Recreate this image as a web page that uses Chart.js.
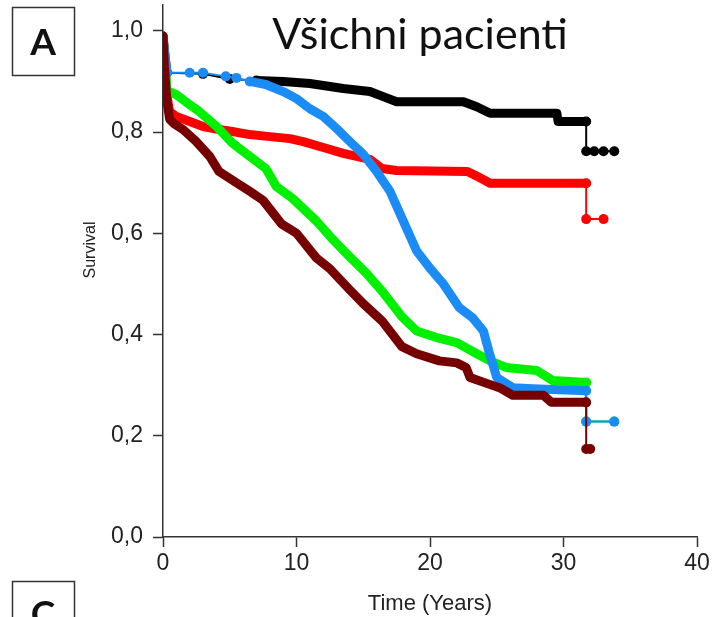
<!DOCTYPE html>
<html>
<head>
<meta charset="utf-8">
<script src="https://cdn.jsdelivr.net/npm/chart.js@4.4.1/dist/chart.umd.min.js"></script>
<style>
  html, body { margin: 0; padding: 0; background: #fff; }
</style>
</head>
<body>
<canvas id="km" width="712" height="617"></canvas>
<script>
// survival curves: [time in years, survival]
const maroonCurve = [[0,0.99],[0.1,0.93],[0.3,0.86],[0.5,0.825],[0.8,0.817],[1.5,0.805],[2.5,0.781],[3.5,0.752],
  [4.2,0.722],[5.5,0.7],[6.5,0.683],[7.5,0.665],[8.9,0.618],[10,0.6],[11.5,0.551],[12.5,0.53],[14,0.488],
  [15,0.461],[16.4,0.427],[17.9,0.376],[19,0.362],[20.7,0.348],[22,0.344],[22.7,0.335],[23,0.315],[24.3,0.303],
  [25.2,0.295],[26.2,0.28],[28.5,0.28],[29.1,0.266],[31.7,0.266],[31.7,0.174],[32,0.174]];
const greenCurve = [[0,0.99],[0.1,0.95],[0.3,0.882],[1,0.874],[2,0.854],[2.7,0.841],[4,0.811],[5.2,0.778],
  [6.5,0.752],[7.7,0.728],[8.5,0.692],[9.7,0.669],[11.5,0.624],[12.5,0.594],[14,0.553],[15.2,0.522],
  [16.4,0.486],[17.9,0.435],[19,0.407],[20.5,0.394],[22,0.384],[23.5,0.362],[24.5,0.348],[25.7,0.335],
  [28,0.329],[29.2,0.309],[31.7,0.305],[31.7,0.228],[33.8,0.228]];
const blueCurve = [[0,0.99],[0.15,0.95],[0.3,0.917],[2,0.917],[3,0.917],[4.7,0.91],[5.5,0.907],[6.5,0.9],
  [7.7,0.894],[9,0.88],[10,0.866],[11,0.846],[12,0.831],[13,0.807],[14,0.781],[15,0.756],[16,0.722],
  [17,0.683],[17.9,0.63],[19,0.565],[20,0.531],[21,0.5],[22.2,0.453],[23.2,0.433],[24,0.407],[24.4,0.368],
  [25,0.315],[26.2,0.295],[27.7,0.293],[31.7,0.289],[31.7,0.228],[33.8,0.228]];
const redCurve = [[0,0.99],[0.1,0.95],[0.3,0.87],[0.5,0.84],[1,0.831],[2,0.821],[3,0.811],[4.2,0.805],
  [5.2,0.801],[6.5,0.795],[8,0.791],[9.5,0.787],[10.5,0.781],[12.2,0.768],[13.5,0.758],[14.5,0.752],
  [15.5,0.746],[16.4,0.728],[17.5,0.724],[22.8,0.722],[23.5,0.713],[24.5,0.699],[31.7,0.699],
  [31.7,0.628],[33,0.628]];
const blackCurve = [[0,0.99],[0.15,0.95],[0.3,0.917],[3,0.915],[5,0.905],[7,0.902],[9,0.9],[11,0.896],
  [13.5,0.886],[15.5,0.88],[16.5,0.87],[17.5,0.86],[22.5,0.86],[23.5,0.85],[24.5,0.837],[29.5,0.837],
  [29.6,0.821],[31.7,0.821],[31.7,0.762],[32.3,0.762],[33,0.762],[33.8,0.762]];

const yTicks = [0, 0.2, 0.4, 0.6, 0.8, 1.0];
const xTicks = [0, 10, 20, 30, 40];

const toPoints = arr => arr.map(p => ({ x: p[0], y: p[1] }));

// time after the last vertical drop: drawn as thin line with dots
function tailStart(arr) {
  let t = Infinity;
  for (let i = 1; i < arr.length; i++) {
    if (arr[i][0] === arr[i - 1][0]) t = arr[i][0];
  }
  return t;
}

// sparse = [from, to] stretch of the curve with few censored dots (thin line)
function curve(label, arr, color, sparse) {
  const tail = tailStart(arr);
  const sp = sparse || [Infinity, -Infinity];
  const thinPoint = x => x >= tail || (x >= sp[0] && x <= sp[1]);
  return {
    label: label,
    data: toPoints(arr),
    borderColor: color,
    backgroundColor: color,
    borderWidth: 9,
    borderCapStyle: 'round',
    borderJoinStyle: 'round',
    pointRadius: ctx => (ctx.raw && thinPoint(ctx.raw.x)) ? 5 : 0,
    pointBorderWidth: 0,
    tension: 0,
    segment: {
      borderWidth: ctx => (ctx.p0.parsed.x >= tail ||
        (ctx.p0.parsed.x >= sp[0] && ctx.p1.parsed.x <= sp[1])) ? 2 : 9
    }
  };
}

const decorations = {
  id: 'decorations',
  afterDraw(chart) {
    const ctx = chart.ctx;
    ctx.save();
    ctx.strokeStyle = '#333';
    ctx.lineWidth = 1.5;
    ctx.strokeRect(12.5, 7.5, 62, 68);
    ctx.strokeRect(12.5, 581.5, 62, 60);
    ctx.fillStyle = '#111';
    ctx.textAlign = 'center';
    ctx.textBaseline = 'alphabetic';
    ctx.font = 'bold 37px Lato';
    ctx.fillText('A', 43, 55);
    ctx.fillText('C', 43, 627);
    ctx.font = '43px Lato';
    ctx.fillText('Všichni pacienti', 420, 49);
    ctx.translate(91, 250);
    ctx.rotate(-Math.PI / 2);
    ctx.textBaseline = 'middle';
    ctx.font = '16px "Liberation Sans", Arial';
    ctx.fillStyle = '#222';
    ctx.fillText('Survival', 0, 0);
    ctx.restore();
  }
};

const axisFont = { family: '"Liberation Sans", Arial', size: 23 };

new Chart(document.getElementById('km'), {
  type: 'line',
  data: {
    datasets: [
      curve('maroon', maroonCurve, '#760000'),
      curve('blue', blueCurve, '#1b8cf5', [0.3, 6.5]),
      curve('green', greenCurve, '#00f000'),
      curve('red', redCurve, '#ff0000'),
      curve('black', blackCurve, '#000000', [0.3, 7])
    ]
  },
  options: {
    responsive: false,
    animation: false,
    devicePixelRatio: 1,
    layout: { padding: { top: 3, right: 15, left: 0, bottom: 0 } },
    plugins: { legend: { display: false }, tooltip: { enabled: false } },
    scales: {
      x: {
        type: 'linear',
        min: 0,
        max: 40,
        afterBuildTicks: s => { s.ticks = xTicks.map(v => ({ value: v })); },
        afterFit: s => { s.height = 80; s.paddingLeft = 0; s.paddingRight = 0; },
        ticks: { font: axisFont, color: '#222', padding: 3, maxRotation: 0 },
        grid: { drawOnChartArea: false, drawTicks: true, tickLength: 10, tickColor: '#333', tickWidth: 1.5 },
        border: { color: '#333', width: 1.5 },
        title: { display: true, text: 'Time (Years)', font: { family: '"Liberation Sans", Arial', size: 22 },
          color: '#222', padding: { top: 0, bottom: 0 } }
      },
      y: {
        type: 'linear',
        min: 0,
        max: 1.051,
        afterBuildTicks: s => { s.ticks = yTicks.map(v => ({ value: v })); },
        afterFit: s => { s.width = 163; s.paddingTop = 0; s.paddingBottom = 0; },
        ticks: { font: axisFont, color: '#222', padding: 10, callback: v => v.toFixed(1).replace('.', ',') },
        grid: { drawOnChartArea: false, drawTicks: true, tickLength: 10, tickColor: '#333', tickWidth: 1.5 },
        border: { color: '#333', width: 1.5 }
      }
    }
  },
  plugins: [decorations]
});
</script>
</body>
</html>
